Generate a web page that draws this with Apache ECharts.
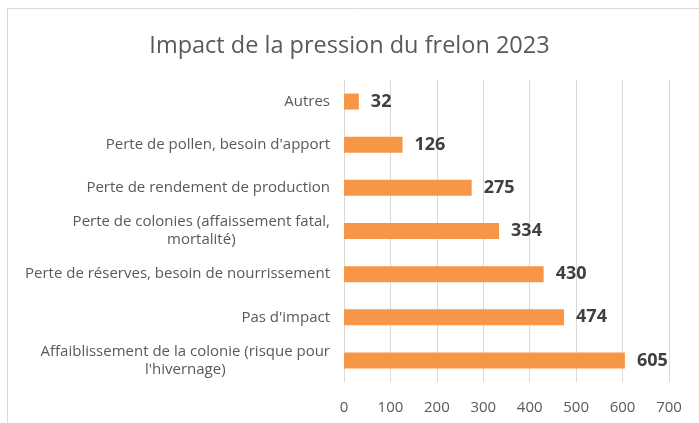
<!DOCTYPE html>
<html>
<head>
<meta charset="utf-8">
<script src="https://cdn.jsdelivr.net/npm/echarts@6/dist/echarts.min.js"></script>
<style>
  html, body { margin: 0; padding: 0; background: #fff; }
  #main { width: 699px; height: 423px; }
</style>
</head>
<body>
<div id="main"></div>
<script>
// categories bottom to top
const categories = [
    "Affaiblissement de la colonie (risque pour\nl'hivernage)",
    "Pas d'impact",
    "Perte de réserves, besoin de nourrissement",
    "Perte de colonies (affaissement fatal,\nmortalité)",
    "Perte de rendement de production",
    "Perte de pollen, besoin d'apport",
    "Autres",
];
const values = [605, 474, 430, 334, 275, 126, 32];

const font = "'Open Sans', sans-serif";
const chart = echarts.init(document.getElementById("main"));

chart.setOption({
    backgroundColor: "#ffffff",
    animation: false,
    title: {
        text: "Impact de la pression du frelon 2023",
        left: "center",
        top: 29,
        textStyle: {
            fontFamily: font,
            fontSize: 23.5,
            fontWeight: "normal",
            color: "#595959",
        },
    },
    graphic: [
        {
            type: "rect",
            shape: { x: 7.5, y: 8.5, width: 720, height: 440 },
            style: { fill: "none", stroke: "#d9d9d9", lineWidth: 1 },
            silent: true,
        },
    ],
    grid: {
        left: 344,
        right: 30,
        top: 80,
        bottom: 41,
        containLabel: false,
    },
    xAxis: {
        type: "value",
        min: 0,
        max: 700,
        interval: 100,
        axisLine: { show: false },
        axisTick: { show: false },
        axisLabel: {
            fontFamily: font,
            fontSize: 15,
            color: "#595959",
            margin: 18,
        },
        splitLine: { lineStyle: { color: "#d9d9d9", width: 1 } },
    },
    yAxis: {
        type: "category",
        data: categories,
        axisLine: { show: false },
        axisTick: { show: false },
        axisLabel: {
            margin: 14,
            align: "right",
            // centre each line inside the right-aligned block, like Excel
            formatter: (v) => v.split("\n").map((s) => "{c|" + s + "}").join("\n"),
            rich: {
                c: {
                    fontFamily: font,
                    fontSize: 15,
                    color: "#595959",
                    lineHeight: 18,
                    align: "center",
                },
            },
        },
    },
    series: [
        {
            type: "bar",
            data: values,
            barWidth: 16,
            itemStyle: { color: "#f79646" },
            label: {
                show: true,
                position: "right",
                distance: 12,
                fontFamily: font,
                fontSize: 18,
                fontWeight: "bold",
                color: "#404040",
            },
        },
    ],
});
</script>
</body>
</html>
